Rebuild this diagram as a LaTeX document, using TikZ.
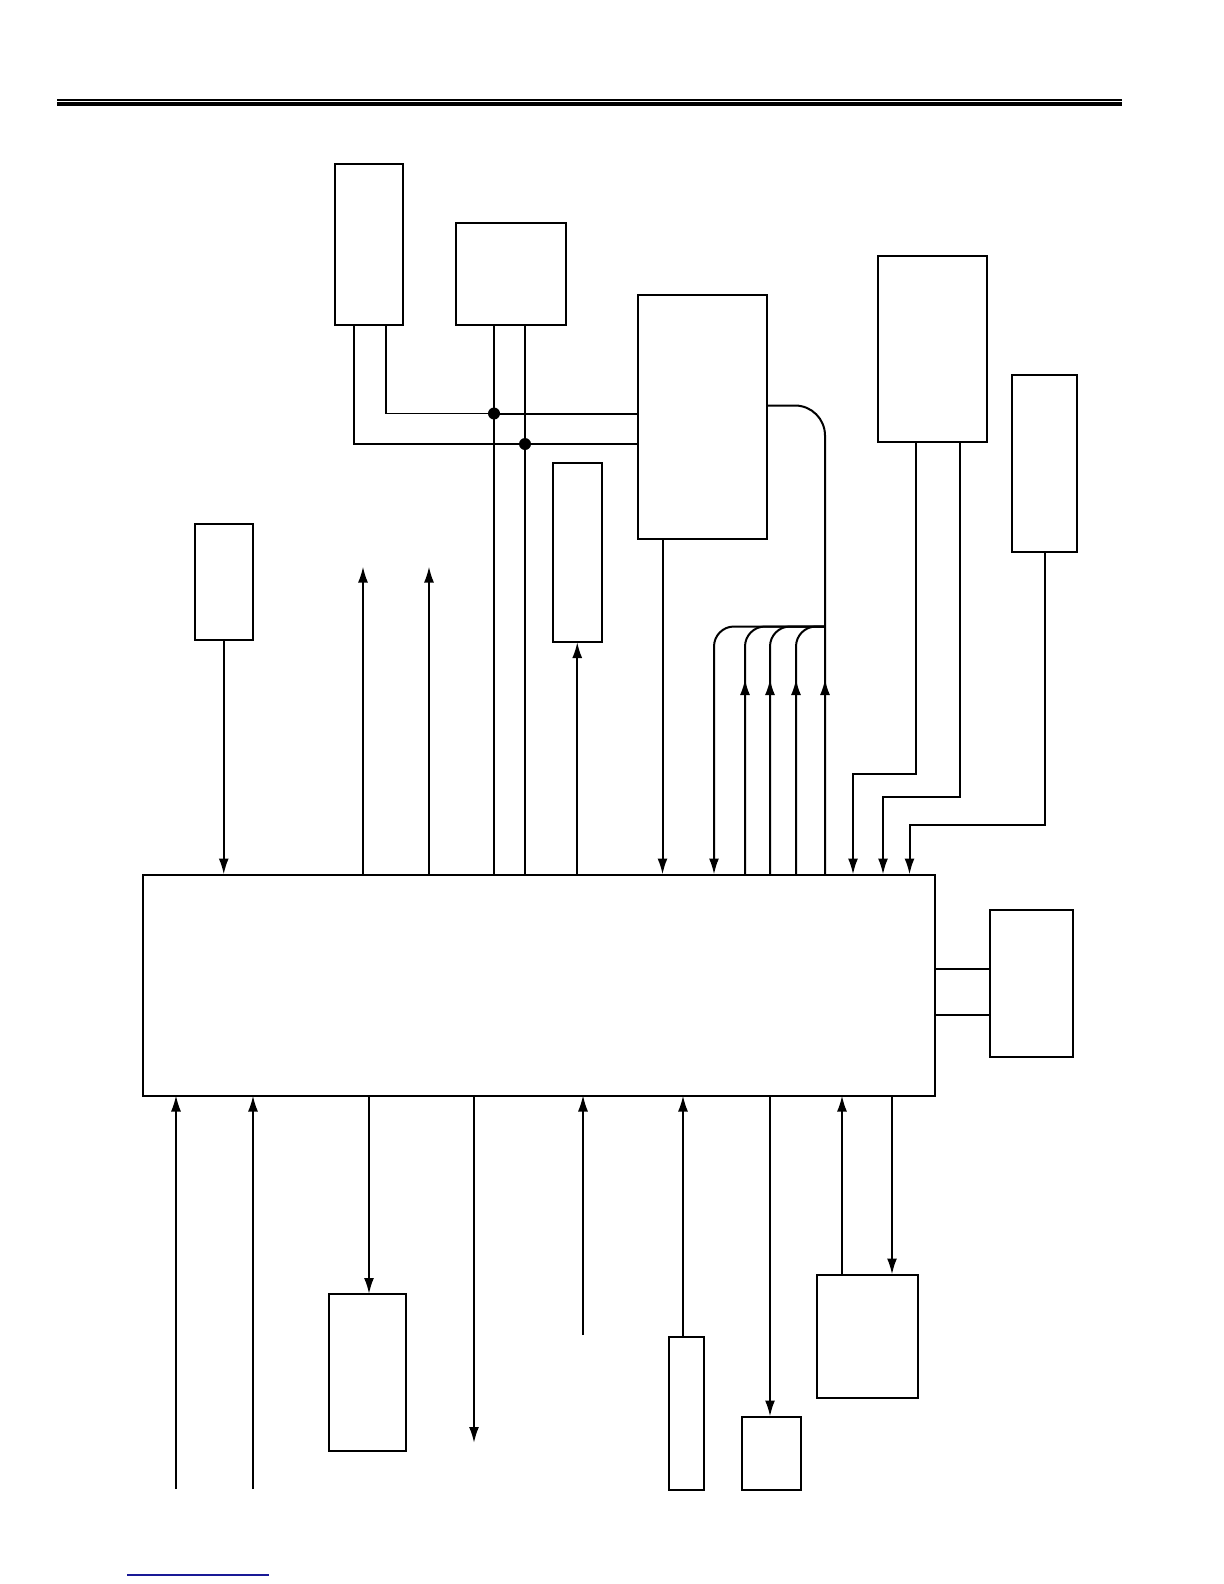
\documentclass[tikz,border=0pt]{standalone}
\usetikzlibrary{arrows.meta,fit,decorations.markings}
\definecolor{rulebl}{RGB}{25,25,150}
\begin{document}
\begin{tikzpicture}[x=0.5pt,y=-0.5pt,
  box/.style={draw, line width=1pt, inner sep=0pt, outer sep=0pt},
  wire/.style={line width=1pt},
  thinwire/.style={line width=0.65pt},
  arr/.style={wire, -{Latex[length=8pt,width=5pt]}},
  midarr/.style={postaction={decorate}, decoration={markings, mark=at position #1 with {\arrow{Latex[length=8pt,width=5pt]}}}},
  jdot/.style={circle, fill, inner sep=0pt, minimum size=6pt}]
\useasboundingbox (0,0) rectangle (1224,1584);

% header rules
\draw[line width=0.75pt] (57,100) -- (1122,100);
\draw[line width=2pt] (57,104.5) -- (1122,104.5);

% boxes
\node[box, fit={(334.5,164) (403,324.5)}] (A) {};
\node[box, fit={(456,222.5) (566,324.5)}] (B) {};
\node[box, fit={(637.5,295) (767,538.5)}] (C) {};
\node[box, fit={(194.5,523.5) (253,640)}] (D) {};
\node[box, fit={(552.5,462.5) (602,642)}] (E) {};
\node[box, fit={(877.5,255.5) (987,441.5)}] (F) {};
\node[box, fit={(1012,374.5) (1077,552)}] (G) {};
\node[box, fit={(142.5,874.5) (934.5,1095.5)}] (M) {};
\node[box, fit={(990,910) (1073,1057)}] (L) {};
\node[box, fit={(328.5,1294) (406,1451)}] (H) {};
\node[box, fit={(669,1337) (704,1489.5)}] (I) {};
\node[box, fit={(741.5,1416.5) (800.5,1489.5)}] (J) {};
\node[box, fit={(816.5,1274.5) (917.5,1398)}] (K) {};

% junctions
\node[jdot] (j1) at (494,413.5) {};
\node[jdot] (j2) at (525,444) {};

% A and B to C
\draw[thinwire] (386,0 |- A.south) |- (j1.center);
\draw[thinwire] (354,0 |- A.south) |- (j2.center);
\draw[wire] (j1.center) -- (j1 -| C.west);
\draw[wire] (j2.center) -- (j2 -| C.west);
\draw[wire] (494,0 |- B.south) -- (494,0 |- M.north);
\draw[wire] (525,0 |- B.south) -- (525,0 |- M.north);

% C outputs and bus
\coordinate (bus) at (825,626.5);
\draw[wire, rounded corners=15pt, midarr=97.75pt] (825,0 |- M.north) -- (825,405.5) -- (825,405.5 -| C.east);
\foreach \xx in {745,770,796}
  \draw[wire, rounded corners=10pt, midarr=97.75pt] (\xx,0 |- M.north) -- (\xx,626.5) -- (bus);
\draw[arr, rounded corners=10pt] (bus) -- (714,626.5) -- (714,0 |- M.north);
\draw[arr] (662.5,0 |- C.south) -- (662.5,0 |- M.north);

% F and G to main
\draw[arr] (916,0 |- F.south) |- (853,774) -- (853,0 |- M.north);
\draw[arr] (960,0 |- F.south) |- (883,797) -- (883,0 |- M.north);
\draw[arr] (1045,0 |- G.south) |- (909.5,825) -- (909.5,0 |- M.north);

% left top
\draw[arr] (D.south) -- (D.south |- M.north);
\coordinate (o1) at (363,566.5);
\coordinate (o2) at (429,566.5);
\draw[arr] (o1 |- M.north) -- (o1);
\draw[arr] (o2 |- M.north) -- (o2);
\draw[arr] (E.south |- M.north) -- (E.south);

% right box L
\draw[wire] (M.east |- 0,969) -- (L.west |- 0,969);
\draw[wire] (M.east |- 0,1015) -- (L.west |- 0,1015);

% bottom
\coordinate (i1) at (176,1489);
\coordinate (i2) at (253,1489);
\coordinate (o3) at (474,1443);
\coordinate (i3) at (583,1335);
\draw[arr, line width=0.75pt] (i1) -- (i1 |- M.south);
\draw[arr] (i2) -- (i2 |- M.south);
\draw[arr] (369,0 |- M.south) -- (369,0 |- H.north);
\draw[arr] (o3 |- M.south) -- (o3);
\draw[arr, line width=0.6pt] (i3) -- (i3 |- M.south);
\draw[arr] (683,0 |- I.north) -- (683,0 |- M.south);
\draw[arr] (770,0 |- M.south) -- (770,0 |- J.north);
\draw[arr] (842,0 |- K.north) -- (842,0 |- M.south);
\draw[arr] (892,0 |- M.south) -- (892,0 |- K.north);

% footer rule
\draw[line width=0.75pt, rulebl] (127,1575) -- (269,1575);
\end{tikzpicture}
\end{document}
